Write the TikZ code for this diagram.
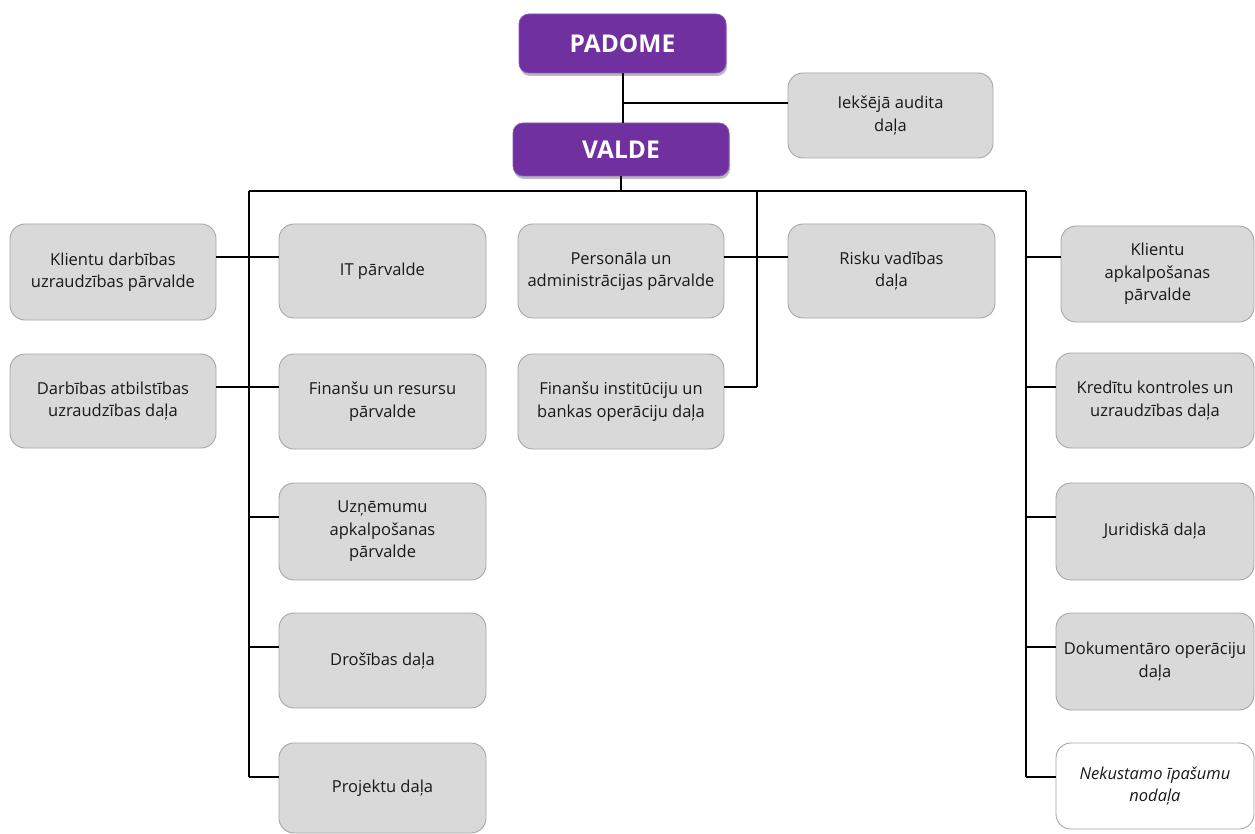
\documentclass[tikz,border=0pt]{standalone}
\usepackage{fontspec}
\setmainfont{Open Sans}
\usetikzlibrary{shadows}
\definecolor{boxfill}{HTML}{D9D9D9}
\definecolor{boxline}{HTML}{A6A6A6}
\definecolor{purp}{HTML}{7030A0}
\definecolor{purpline}{HTML}{8A56B5}
\tikzset{
  gbox/.style={draw=boxline, fill=boxfill, line width=0.9pt, rounded corners=15pt,
    align=center, inner sep=1pt, font=\fontsize{16.5}{22.5}\selectfont, text=black!90},
  wbox/.style={gbox, fill=white},
  pbox/.style={draw=purpline, fill=purp, line width=0.8pt, rounded corners=10pt,
    text=white, font=\fontsize{24.5}{28}\selectfont\bfseries,
    drop shadow={shadow xshift=1pt, shadow yshift=-3pt, fill=black!45, opacity=0.6}},
  conn/.style={line width=2pt, black}
}
\begin{document}
\begin{tikzpicture}[x=1pt, y=-1pt]
\useasboundingbox (0,0) rectangle (1255,834);
% top
\node[pbox, minimum width=207pt, minimum height=59pt] (padome) at (622.5,43.5) {PADOME};
\node[pbox, minimum width=216pt, minimum height=53pt] (valde) at (621,149.5) {VALDE};
\node[gbox, minimum width=205pt, minimum height=85pt] (audit) at (890.5,115.5) {Iekšējā audita\\daļa};
% left column
\node[gbox, minimum width=206pt, minimum height=96pt] (kdu) at (113,272) {Klientu darbības\\uzraudzības pārvalde};
\node[gbox, minimum width=206pt, minimum height=94pt] (dau) at (113,401) {Darbības atbilstības\\uzraudzības daļa};
% second column
\node[gbox, minimum width=207pt, minimum height=94pt] (it) at (382.5,271) {IT pārvalde};
\node[gbox, minimum width=207pt, minimum height=95pt] (fin) at (382.5,401.5) {Finanšu un resursu\\pārvalde};
\node[gbox, minimum width=207pt, minimum height=97pt] (uzn) at (382.5,531.5) {Uzņēmumu\\apkalpošanas\\pārvalde};
\node[gbox, minimum width=207pt, minimum height=95pt] (dros) at (382.5,660.5) {Drošības daļa};
\node[gbox, minimum width=207pt, minimum height=90pt] (proj) at (382.5,788) {Projektu daļa};
% middle column
\node[gbox, minimum width=206pt, minimum height=94pt] (pers) at (621,271) {Personāla un\\administrācijas pārvalde};
\node[gbox, minimum width=206pt, minimum height=95pt] (fini) at (621,401.5) {Finanšu institūciju un\\bankas operāciju daļa};
\node[gbox, minimum width=207pt, minimum height=94pt] (risk) at (891.5,271) {Risku vadības\\daļa};
% right column
\node[gbox, minimum width=193pt, minimum height=96pt] (klap) at (1157.5,274) {Klientu\\apkalpošanas\\pārvalde};
\node[gbox, minimum width=198pt, minimum height=95pt] (kred) at (1155,400.5) {Kredītu kontroles un\\uzraudzības daļa};
\node[gbox, minimum width=198pt, minimum height=97pt] (jur) at (1155,531.5) {Juridiskā daļa};
\node[gbox, minimum width=198pt, minimum height=97pt] (dok) at (1155,661.5) {Dokumentāro operāciju\\daļa};
\node[wbox, minimum width=198pt, minimum height=86pt, font=\fontsize{16.5}{22.5}\selectfont\itshape] (nek) at (1155,786) {Nekustamo īpašumu\\nodaļa};
% junction coordinates
\coordinate (ja) at (622,103);
\coordinate (bl) at (249,191);
\coordinate (bm) at (757,191);
\coordinate (br) at (1026,191);
% connectors
\draw[conn] (padome.south) -- (padome.south |- valde.north);
\draw[conn] (ja) -- (ja -| audit.west);
\draw[conn] (valde.south) -- (valde.south |- bl);
\draw[conn] (bl) -- (br);
\draw[conn] (bl) -- (bl |- 0,777);
\draw[conn] (bm) -- (bm |- 0,387);
\draw[conn] (br) -- (br |- 0,777);
% left bus branches
\draw[conn] (kdu.east |- 0,257) -- (it.west |- 0,257);
\draw[conn] (dau.east |- 0,387) -- (fin.west |- 0,387);
\draw[conn] (bl |- 0,517) -- (uzn.west |- 0,517);
\draw[conn] (bl |- 0,647) -- (dros.west |- 0,647);
\draw[conn] (bl |- 0,777) -- (proj.west |- 0,777);
% middle branches
\draw[conn] (pers.east |- 0,257) -- (risk.west |- 0,257);
\draw[conn] (fini.east |- 0,387) -- (bm |- 0,387);
% right branches
\draw[conn] (br |- 0,257) -- (klap.west |- 0,257);
\draw[conn] (br |- 0,387) -- (kred.west |- 0,387);
\draw[conn] (br |- 0,517) -- (jur.west |- 0,517);
\draw[conn] (br |- 0,647) -- (dok.west |- 0,647);
\draw[conn] (br |- 0,777) -- (nek.west |- 0,777);
\end{tikzpicture}
\end{document}
